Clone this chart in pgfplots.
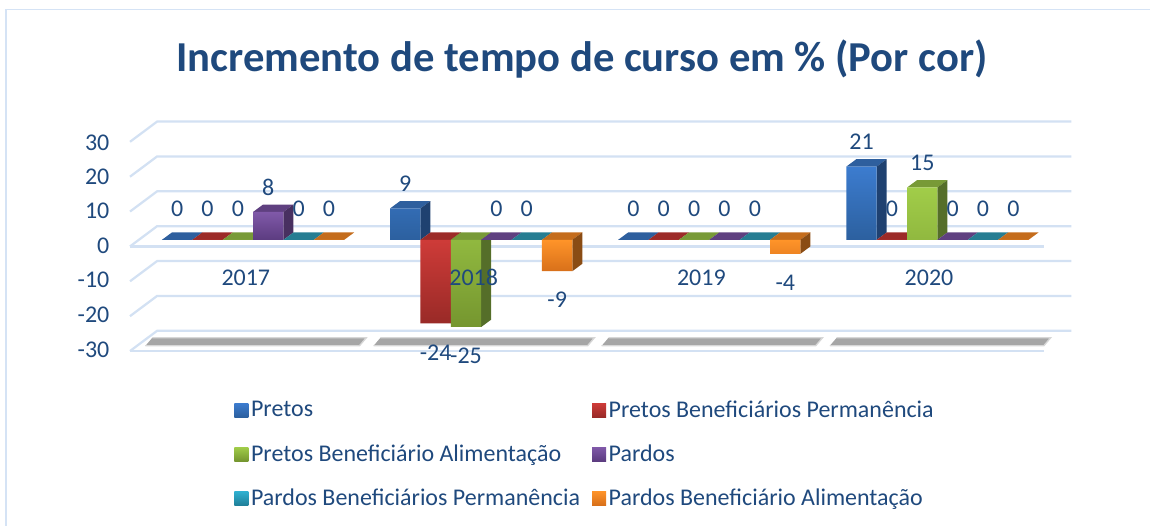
\documentclass[border=0pt]{standalone}
\usepackage{pgfplots}
\pgfplotsset{compat=1.18}
\usepackage{fontspec}
\setmainfont{Carlito}
\definecolor{txt}{HTML}{1F497D}
\definecolor{gridc}{HTML}{D3E1F3}
\definecolor{frame}{HTML}{D5E3F5}
\definecolor{shadow}{HTML}{A6A6A6}
% front top, front bottom, top face, side face
\definecolor{blueF}{HTML}{3C7CCF}\definecolor{blueB}{HTML}{2C609F}\definecolor{blueT}{HTML}{2E5F9E}\definecolor{blueS}{HTML}{1F4170}
\definecolor{redF}{HTML}{CE3B38}\definecolor{redB}{HTML}{992A27}\definecolor{redT}{HTML}{9C2B28}\definecolor{redS}{HTML}{7A1F1C}
\definecolor{greenF}{HTML}{A1CD49}\definecolor{greenB}{HTML}{75962F}\definecolor{greenT}{HTML}{789A37}\definecolor{greenS}{HTML}{556E29}
\definecolor{purpleF}{HTML}{8059A9}\definecolor{purpleB}{HTML}{5C3C80}\definecolor{purpleT}{HTML}{5F4080}\definecolor{purpleS}{HTML}{483060}
\definecolor{tealF}{HTML}{30B2D2}\definecolor{tealB}{HTML}{20809A}\definecolor{tealT}{HTML}{267D92}\definecolor{tealS}{HTML}{1B5F70}
\definecolor{orangeF}{HTML}{FF9429}\definecolor{orangeB}{HTML}{D8701A}\definecolor{orangeT}{HTML}{C46C1C}\definecolor{orangeS}{HTML}{8A4C14}

\pgfplotsset{
  squarelegend/.style={legend image code/.code={\path[##1] (0pt,-5.25pt) rectangle (10.5pt,5.25pt);}},
}
\newcommand{\chartfont}{\fontsize{18}{18}\selectfont}

% bar geometry in axis units (one group = 228.3 px, 3.49 px per percent)
\def\barw{0.13316}
\def\depx{0.0438}
\def\depy{2.12}

% series index, the four values, colour prefix, name
\newcommand{\allseries}[1]{%
  #1{0}{0}{9}{0}{21}{blue}{Pretos}%
  #1{1}{0}{-24}{0}{0}{red}{Pretos Beneficiários Permanência}%
  #1{2}{0}{-25}{0}{15}{green}{Pretos Beneficiário Alimentação}%
  #1{3}{8}{0}{0}{0}{purple}{Pardos}%
  #1{4}{0}{0}{0}{0}{teal}{Pardos Beneficiários Permanência}%
  #1{5}{0}{-9}{-4}{0}{orange}{Pardos Beneficiário Alimentação}%
}

\newcommand{\vl}[4]{% series, group, value, shift
  \pgfmathsetmacro\xx{#2+(#1-2.5)*\barw}
  \addplot[forget plot,only marks,mark=none,nodes near coords={#3},
    every node near coord/.style={anchor=center,yshift=#4,font=\chartfont,text=txt}]
    coordinates {(\xx,#3)};
}
\newcommand{\vlabel}[3]{%
  \ifnum#3=0 \vl{#1}{#2}{#3}{23.25pt}\else
  \ifnum#3>0 \vl{#1}{#2}{#3}{18.75pt}\else
  \vl{#1}{#2}{#3}{-21.75pt}\fi\fi
}
\newcommand{\serieslabels}[7]{%
  \vlabel{#1}{0}{#2}\vlabel{#1}{1}{#3}\vlabel{#1}{2}{#4}\vlabel{#1}{3}{#5}%
}

\newcommand{\faces}[5]{% series, group, value, colour prefix
  \pgfmathsetmacro\xl{#2+(#1-3)*\barw}
  \pgfmathsetmacro\xr{\xl+\barw}
  \pgfmathsetmacro\yo{max(#3,0)}
  \pgfmathsetmacro\yt{\yo+\depy}
  \pgfmathsetmacro\xlb{\xl+\depx}
  \pgfmathsetmacro\xrb{\xr+\depx}
  \pgfmathsetmacro\yb{#3+\depy}
  \addplot[forget plot,draw=none,fill=#4T] coordinates {(\xl,\yo)(\xr,\yo)(\xrb,\yt)(\xlb,\yt)};
  \ifnum#3=0 \else
  \addplot[forget plot,draw=none,fill=#4S] coordinates {(\xr,0)(\xrb,\depy)(\xrb,\yb)(\xr,#3)};
  \fi
}
\newcommand{\bars}[7]{%
  \faces{#1}{0}{#2}{#6}{}\faces{#1}{1}{#3}{#6}{}\faces{#1}{2}{#4}{#6}{}\faces{#1}{3}{#5}{#6}{}%
  \addplot[ybar,squarelegend,bar width=22.8pt,bar shift={(#1-2.5)*22.8pt},draw=none,
    top color=#6F,bottom color=#6B]
    coordinates {(0,#2)(1,#3)(2,#4)(3,#5)};
  \addlegendentry{#7}
}
\newcommand{\wall}[1]{% one gridline: front stub and back line
  \addplot[forget plot,gridc,line width=1.7pt] coordinates {(-0.5397,#1-1.9)(-0.421,#1+3.9)(3.587,#1+3.9)};
}
\newcommand{\shadowbar}[1]{%
  \addplot[forget plot,draw=shadow!45,line width=1pt,fill=shadow] coordinates {(#1-0.472,-30.4)(#1+0.466,-30.4)(#1+0.496,-28.1)(#1-0.442,-28.1)};
}

\begin{document}
\begin{tikzpicture}
\begin{axis}[
  scale only axis,
  width=863.25pt,height=394.5pt,
  xmin=-1.109,xmax=3.9326,
  ymin=-81.95,ymax=68.77,
  clip=false,
  axis line style={draw=none},
  major tick length=0pt,
  xtick=\empty,
  ytick={27.8,18.0,8.3,-1.75,-11.5,-21.5,-31.5},
  yticklabels={30,20,10,0,-10,-20,-30},
  tick label style={font=\chartfont,text=txt},
  yticklabel style={anchor=east,xshift=85.5pt},
  title={Incremento de tempo de curso em \% (Por cor)},
  title style={at={(axis description cs:0.506,0.873)},anchor=center,font=\fontsize{32}{32}\selectfont\bfseries,text=txt},
  legend columns=2,
  legend cell align=left,
  legend style={at={(axis description cs:0.2,0.248)},anchor=north west,draw=none,fill=none,
    font=\chartfont,text=txt,row sep=15pt,
    /tikz/every even column/.append style={column sep=7pt}},
]
% chart frame, open to the right
\addplot[forget plot,frame,line width=1.5pt] coordinates {(-1.0828,-81.95)(-1.0828,66.05)};
\addplot[forget plot,frame,line width=1.2pt] coordinates {(-1.0828,66.05)(3.9326,66.05)};
% walls and floor
\wall{30}\wall{20}\wall{10}\wall{0}\wall{-10}\wall{-20}\wall{-30}
\addplot[forget plot,gridc,line width=1.7pt] coordinates {(-0.5397,-1.9)(3.468,-1.9)};
\addplot[forget plot,gridc,line width=1.7pt] coordinates {(-0.5397,-31.9)(3.468,-31.9)};
\shadowbar{0}\shadowbar{1}\shadowbar{2}\shadowbar{3}
\allseries{\serieslabels}
\allseries{\bars}
% category names sit over the bars
\addplot[forget plot,only marks,mark=none,point meta=explicit symbolic,nodes near coords,
  every node near coord/.style={anchor=center,yshift=0pt,font=\chartfont,text=txt}]
  coordinates {(-0.032,-10.9)[2017] (0.967,-10.9)[2018] (1.965,-10.9)[2019] (2.963,-10.9)[2020]};
\end{axis}
\end{tikzpicture}
\end{document}
